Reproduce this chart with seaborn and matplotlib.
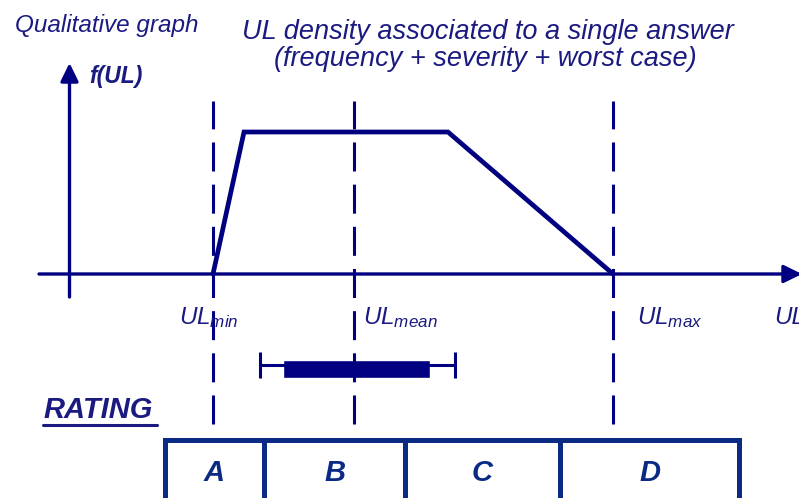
import matplotlib.pyplot as plt
import seaborn as sns
import numpy as np

sns.set_theme(style="white")
plt.rcParams['font.family'] = ['Liberation Sans', 'DejaVu Sans']
plt.rcParams['mathtext.fontset'] = 'custom'
plt.rcParams['mathtext.it'] = 'Liberation Sans:italic'
plt.rcParams['mathtext.rm'] = 'Liberation Sans'

# Data (UL in arbitrary units, f(UL) relative)
ul_shape = [213, 244, 448, 613]
f_shape = [0, 1, 1, 0]
ul_marks = [213, 354, 613]
ul_subs = ['min', 'mean', 'max']
box_stats = [260, 283, 430, 455]   # whisker low, q1, q3, whisker high
rating_edges = [165, 264, 405, 560, 739]
rating_labels = ['A', 'B', 'C', 'D']

line_col = '#000080'
text_col = '#1a1a80'
table_col = '#0b2a84'

# layout: where f=0 and f=1 sit on the 498 px canvas
H = 498
F0, F1 = 274, 132
def fy(py):
    return (F0 - py) / (F0 - F1)

fig = plt.figure(figsize=(7.99, 4.98), dpi=100)
ax = fig.add_axes([0, 0, 1, 1])
ax.set_xlim(0, 799)
ax.set_ylim(fy(H), fy(0))
ax.axis('off')

# axes arrows
arrow = dict(arrowstyle='-|>,head_length=0.55,head_width=0.27', lw=2.4,
             color=line_col, shrinkA=0, shrinkB=0, mutation_scale=20)
ax.annotate('', xy=(69.5, fy(63)), xytext=(69.5, fy(297)),
            arrowprops=arrow, annotation_clip=False)
ax.annotate('', xy=(802, 0), xytext=(39, 0),
            arrowprops=arrow, annotation_clip=False)

# dashed marks
ax.vlines(ul_marks, fy(424), fy(101), colors=line_col, lw=2.2,
          linestyles=[(0, (9.5, 4.3))])

# density shape
sns.lineplot(x=ul_shape, y=f_shape, sort=False, ax=ax, color=line_col,
             lw=3.4, solid_joinstyle='miter')

# box of the answer
ax.plot([box_stats[0], box_stats[3]], [fy(365), fy(365)], color=line_col, lw=2.2)
ax.vlines([box_stats[0], box_stats[3]], fy(378), fy(352), colors=line_col, lw=2.2)
ax.barh(fy(369), box_stats[2] - box_stats[1], left=box_stats[1],
        height=fy(360) - fy(378), color=line_col)

# labels
label_x = [179, 363, 637]
for x, s in zip(label_x, ul_subs):
    ax.text(x, fy(324), r'$\mathit{UL}_{\mathit{%s}}$' % s, fontsize=17.5,
            color=text_col, va='baseline')
ax.text(774, fy(324), 'UL', fontsize=17.5, style='italic', color=text_col,
        va='baseline')
ax.text(89, fy(83), 'f(UL)', fontsize=16.5, style='italic', weight='bold',
        color=text_col, va='baseline')
ax.text(15, fy(32), 'Qualitative graph', fontsize=17.5, style='italic',
        color=text_col, va='baseline')
ax.text(488, fy(39), 'UL density associated to a single answer', fontsize=19.5,
        style='italic', color=text_col, va='baseline', ha='center')
ax.text(485, fy(66), '(frequency + severity + worst case)', fontsize=19.5,
        style='italic', color=text_col, va='baseline', ha='center')

# rating table
ax.text(43, fy(418), 'RATING', fontsize=21, style='italic', weight='bold',
        color=text_col, va='baseline')
ax.plot([43, 157], [fy(425), fy(425)], color=text_col, lw=2.2)
widths = np.diff(rating_edges)
ax.barh(fy(470), widths, left=rating_edges[:-1], height=fy(441) - fy(501),
        color='white', edgecolor=table_col, lw=3.6)
for x0, w, lab in zip(rating_edges[:-1], widths, rating_labels):
    ax.text(x0 + w / 2, fy(473), lab, fontsize=21, style='italic',
            weight='bold', color=table_col, ha='center', va='center')

plt.savefig('out.png', dpi=100)
